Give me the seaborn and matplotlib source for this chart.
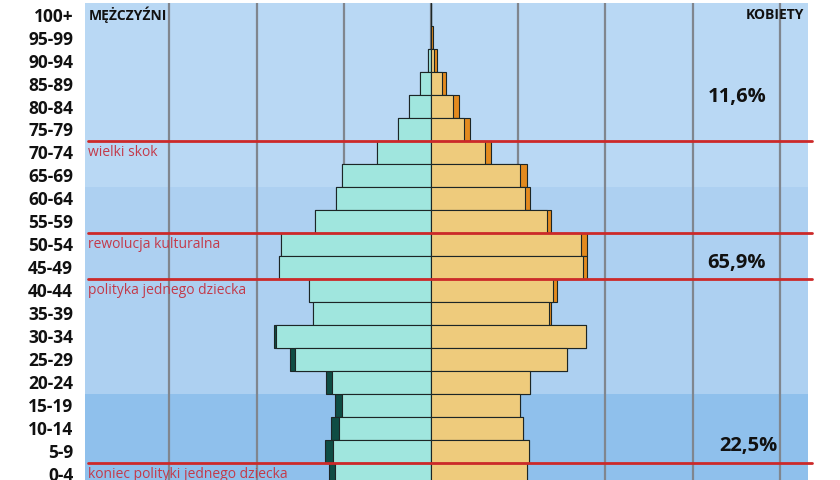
import matplotlib
matplotlib.use("Agg")
import matplotlib.pyplot as plt
import numpy as np
import pandas as pd
import seaborn as sns

# ---- data (top row first) ----
ages = ["100+", "95-99", "90-94", "85-89", "80-84", "75-79", "70-74", "65-69",
        "60-64", "55-59", "50-54", "45-49", "40-44", "35-39", "30-34", "25-29",
        "20-24", "15-19", "10-14", "5-9", "0-4"]
male = [0.00, 0.01, 0.08, 0.31, 0.63, 0.94, 1.54, 2.54,
        2.71, 3.32, 4.31, 4.35, 3.49, 3.39, 4.49, 4.04,
        3.01, 2.76, 2.87, 3.04, 2.93]
female = [0.01, 0.05, 0.16, 0.42, 0.79, 1.11, 1.72, 2.74,
          2.85, 3.44, 4.48, 4.47, 3.60, 3.45, 4.45, 3.91,
          2.85, 2.56, 2.65, 2.80, 2.74]

group_labels = ["11,6%", "65,9%", "22,5%"]
events = ["wielki skok", "rewolucja kulturalna", "polityka jednego dziecka",
          "koniec polityki jednego dziecka"]
event_rows = ["70-74", "50-54", "40-44", "0-4"]
side_labels = ["MĘŻCZYŹNI", "KOBIETY"]

# ---- style ----
sns.set_style("white")
plt.rcParams["font.family"] = ["Open Sans", "DejaVu Sans"]

df = pd.DataFrame({"age": ages, "male": male, "female": female})
df["common"] = np.minimum(df["male"], df["female"])
df["male_neg"] = -df["male"]
df["common_neg"] = -df["common"]

fig = plt.figure(figsize=(8.4, 4.8), dpi=100)
W, H = 840, 480
ax = fig.add_axes([85 / W, 1 - 485.7 / H, 723 / W, 482.6 / H])

TEAL = "#a0e6de"
DTEAL = "#0f4d44"
TAN = "#eecb7c"
ORANGE = "#e38a1e"
EDGE = "#1c2626"

kw = dict(y="age", order=ages, orient="y", width=1.0, saturation=1,
          edgecolor=EDGE, linewidth=0.8, errorbar=None, ax=ax, zorder=3)
sns.barplot(data=df, x="male_neg", color=DTEAL, **kw)
sns.barplot(data=df, x="common_neg", color=TEAL, **kw)
sns.barplot(data=df, x="female", color=ORANGE, **kw)
sns.barplot(data=df, x="common", color=TAN, **kw)

n = len(ages)
ax.set_ylim(n - 0.5, -0.5)
ax.set_xlim(-9.92, 10.81)

# background bands
idx = {a: i for i, a in enumerate(ages)}
ax.axhspan(-0.5, idx["65-69"] + 0.5, color="#b9d8f4", zorder=0, lw=0)
ax.axhspan(idx["65-69"] + 0.5, idx["20-24"] + 0.5, color="#add0f1", zorder=0, lw=0)
ax.axhspan(idx["20-24"] + 0.5, n - 0.5, color="#8fc0ec", zorder=0, lw=0)

# vertical grid lines
for gx in np.arange(-7.5, 10.1, 2.5):
    ax.axvline(gx, color="#80868e", lw=1.6, zorder=1)

# red event lines
for r in event_rows:
    y = idx[r] - 0.5
    ax.axhline(y, xmin=3 / 723, xmax=727 / 723, color="#cc2929", lw=2.0,
               zorder=5, clip_on=False)
for t, r in zip(events, event_rows):
    ax.text(-9.83, idx[r], t, color="#c33a4a", fontsize=10, ha="left",
            va="center", zorder=6)

# group share labels
ax.text(8.77, 3.58, group_labels[0], fontsize=14.5, fontweight="bold",
        ha="center", va="center", color="#111111", zorder=6)
ax.text(8.76, 10.8, group_labels[1], fontsize=14.5, fontweight="bold",
        ha="center", va="center", color="#111111", zorder=6)
ax.text(9.09, 18.76, group_labels[2], fontsize=14.5, fontweight="bold",
        ha="center", va="center", color="#111111", zorder=6)

# side labels
ax.text(-9.8, 0.0, side_labels[0], fontsize=10, fontweight="bold",
        ha="left", va="center", color="#111111", zorder=6)
ax.text(10.69, 0.0, side_labels[1], fontsize=10, fontweight="bold",
        ha="right", va="center", color="#111111", zorder=6)

# axes cosmetics
ax.set_xlabel("")
ax.set_ylabel("")
ax.set_xticks([])
ax.set_yticks(range(n))
ax.set_yticklabels(ages, fontsize=12.5, fontweight="bold", color="#111111")
ax.tick_params(axis="y", length=0, pad=8.5)
for s in ax.spines.values():
    s.set_visible(False)

fig.savefig("out.png", dpi=100)
